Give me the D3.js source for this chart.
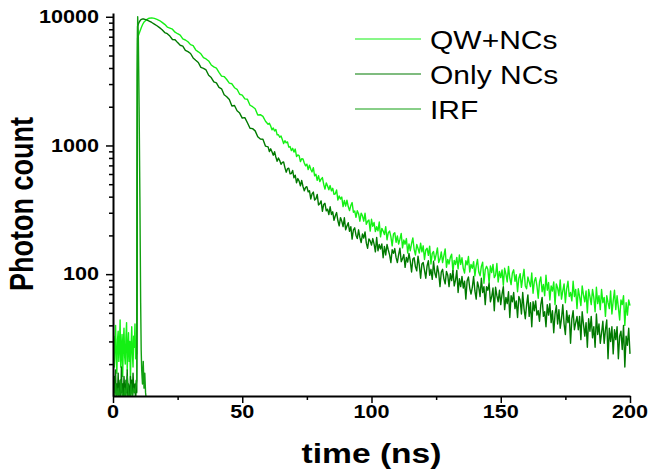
<!DOCTYPE html>
<html><head><meta charset="utf-8">
<script src="https://cdn.jsdelivr.net/npm/d3@7"></script>
<style>html,body{margin:0;padding:0;background:#fff;}svg{display:block;}</style>
</head><body>
<svg id="chart" width="649" height="470"></svg>
<script>
// ---------- data ----------
const seriesNames = ["QW+NCs", "Only NCs", "IRF"];
const seriesColors = ["#14f014", "#007a00", "#12a012"];

const xTickValues = [0, 50, 100, 150, 200];
const xMinorTicks = [25, 75, 125, 175];
const yTickValues = [100, 1000, 10000];
const yTickLabels = ["100", "1000", "10000"];
const yMinorTicks = [20,30,40,50,60,70,80,90,200,300,400,500,600,700,800,900,2000,3000,4000,5000,6000,7000,8000,9000];

// head (0 - 19 ns), explicit times
const headTime = [0,0.25,0.5,0.75,1,1.25,1.5,1.75,2,2.25,2.5,2.75,3,3.25,3.5,3.75,4,4.25,4.5,4.75,5,5.25,5.5,5.75,6,6.25,6.5,6.75,7,7.25,7.5,7.75,8,8.25,8.5,8.75,9,
  9.2,9.5,10,10.5,11,11.5,12,13,14,15,16,17,18,19];
const qwHead = [24,33,19,28,40,22,17,31,36,21,27,44,19,25,34,16,29,38,23,20,32,42,18,26,35,21,30,15,28,39,24,19,33,27,41,22,26,
  24,6800,7300,7800,8300,8750,9100,9500,9750,9800,9720,9560,9350,9050];
const ncHead = [13,11,16,12,18,10,14,12,17,11,13,15,10,19,12,14,11,16,13,10,15,12,18,11,14,13,10,16,12,15,11,17,13,12,14,10,15,
  12,8400,9000,9350,9550,9620,9600,9450,9250,9030,8780,8520,8230,7930];

// middle (20 - 59 ns, one value per ns)
const midStart = 20;
const qwMid = [8737,8319,8168,8006,7588,7383,7196,6725,6598,6396,6077,5977,5522,5343,5156,4816,4700,4537,4224,4080,
3987,3701,3459,3430,3256,3055,3016,2809,2732,2501,2465,2304,2286,2054,2000,1931,1725,1734,1682,1542];
const ncMid = [7539,7397,7075,6666,6629,6300,6009,5912,5476,5356,5186,4789,4593,4416,4040,3975,3861,3514,3372,3117,
3064,2831,2757,2476,2391,2278,2028,2042,1859,1785,1633,1646,1500,1361,1351,1299,1169,1123,1119,988];

// tail (60 - 200 ns, one value per 0.5 ns)
const tailStart = 60, tailStep = 0.5;
const qwTail = [
1461,1489,1418,1321,1367,1297,1332,1208,1212,1158, 1184,1112,1036,1089,1049,1066,971,981,912,950,
888,937,821,844,834,749,788,785,731,694, 716,649,703,654,623,673,581,598,536,582,
524,547,563,500,458,512,485,453,488,444, 465,417,421,451,376,405,383,397,335,374,
338,376,335,312,341,360,303,310,276,311, 295,258,298,284,258,297,244,258,264,216,
267,235,252,214,234,217,254,195,227,216, 203,234,185,210,216,196,166,205,210,177,
198,171,187,207,160,184,171,189,146,172, 152,173,191,156,141,170,158,146,174,149,
166,130,154,159,140,165,120,145,150,128, 142,160,123,131,149,123,139,157,113,130,
120,135,143,105,128,119,135,110,141,119, 134,111,102,127,118,137,104,119,111,125,
97,116,130,104,97,115,124,85,108,115, 109,86,116,103,119,94,98,121,87,105,
94,108,82,111,100,87,115,93,83,102, 108,88,99,73,93,101,79,94,109,81,
77,95,87,80,102,71,88,94,81,65, 87,95,73,83,68,98,75,86,63,81,
74,87,58,84,78,68,90,64,74,84, 60,77,88,67,72,62,88,67,76,54,
77,67,57,81,69,61,74,50,76,67, 58,76,66,51,79,59,68,53,76,60,
66,47,68,60,54,74,49,62,75,53, 68,55,44,63,58,68,40,60,48,63,57];
const ncTail = [
976,896,942,894,840,894,813,755,800,763, 713,738,744,673,620,660,666,603,605,639,
561,587,513,553,528,486,534,480,445,472, 478,436,445,384,420,434,376,385,417,345,
352,371,308,348,355,310,320,290,334,291, 305,262,284,301,260,237,275,258,234,274,
221,237,251,215,234,187,221,229,201,189, 221,193,176,205,191,213,174,159,188,181,
168,189,171,149,193,152,170,157,172,134, 164,141,170,154,141,123,155,145,158,135,
123,142,159,125,132,142,113,135,124,145, 126,104,131,134,114,106,138,117,93,120,
123,107,93,116,127,98,109,91,126,102, 94,116,102,80,104,109,92,84,105,98,
80,101,89,107,81,90,107,72,92,80, 96,78,88,64,89,95,78,70,79,96,
74,64,87,79,67,93,72,80,58,80, 75,85,61,67,78,52,79,68,61,75,
58,70,80,53,66,59,73,46,68,61, 72,54,62,46,67,63,49,72,54,45,
58,69,47,60,39,61,52,62,48,52, 43,58,66,47,51,39,58,48,59,42,
52,35,49,57,41,53,38,45,58,41, 34,52,42,48,29,45,52,37,42,47,
37,47,31,51,41,33,42,27,45,36, 47,32,39,27,49,34,41,29,35,43,
29,37,44,22,38,30,39,24,37,31, 39,22,33,36,26,40,19,33,28,38,24];

const irfTime = [0,0.5,1,1.5,2,2.5,3,3.5,4,4.5,5,5.5,6,6.5,7,7.5,8,8.5,9,9.2,9.35,9.55,9.8,10.1,10.4,10.7,10.9,11.1,11.4,11.7,12,12.3,12.6,13,13.5];
const irfCount = [12,10,14,11,13,10,15,12,10,13,11,16,12,10,14,11,13,12,14,15,3500,10000,7000,2000,400,60,26,18,14,21,13,17,12,10,9];

// ---------- layout ----------
const svg = d3.select("#chart");
const X0 = 113, X1 = 630, YT = 13, YB = 396;
const x = d3.scaleLinear().domain([0, 200]).range([X0, X1]);
const y = d3.scaleLog().domain([11.3, 10700]).range([YB, YT]);

const build = (head, mid, tail) => headTime.map((t, i) => [t, head[i]])
  .concat(mid.map((v, i) => [midStart + i, v]))
  .concat(tail.map((v, i) => [tailStart + i * tailStep, v]));
const series = [
  build(qwHead, qwMid, qwTail),
  build(ncHead, ncMid, ncTail),
  irfTime.map((t, i) => [t, irfCount[i]])
];

svg.append("clipPath").attr("id", "plotclip").append("rect")
  .attr("x", X0).attr("y", YT - 2).attr("width", X1 - X0 + 2).attr("height", YB - YT + 2);

const line = d3.line().x(d => x(d[0])).y(d => y(Math.max(d[1], 5)));
const plot = svg.append("g").attr("clip-path", "url(#plotclip)");
series.forEach((s, i) => {
  plot.append("path").datum(s).attr("d", line)
    .attr("fill", "none").attr("stroke", seriesColors[i]).attr("stroke-width", 1.4)
    .attr("stroke-linejoin", "round");
});

// ---------- axes ----------
const SX = 1.2; // horizontal stretch of the original image text
function stretchedText(g, tx, ty, str, size, weight, anchor, rot) {
  return g.append("text")
    .attr("transform", `translate(${tx},${ty}) scale(${SX},1)` + (rot ? ` rotate(${rot})` : ""))
    .attr("text-anchor", anchor).attr("dominant-baseline", "central")
    .style("font-family", "'Liberation Sans', Arial, sans-serif")
    .style("font-size", size + "px").style("font-weight", weight)
    .attr("fill", "#000").text(str);
}

const axStyle = g => { g.selectAll("path,line").attr("stroke", "#000"); };
const gx = svg.append("g").attr("transform", `translate(0,${YB})`);
gx.call(d3.axisBottom(x).tickValues(xTickValues).tickSize(7).tickSizeOuter(0).tickFormat(""));
gx.append("g").call(d3.axisBottom(x).tickValues(xMinorTicks).tickSize(4).tickSizeOuter(0).tickFormat(""))
  .select(".domain").remove();
gx.selectAll("path").attr("stroke-width", 2);
gx.selectAll("line").attr("stroke-width", 1.5);
axStyle(gx);

const gy = svg.append("g").attr("transform", `translate(${X0},0)`);
gy.call(d3.axisLeft(y).tickValues(yTickValues).tickSize(7).tickSizeOuter(0).tickFormat(""));
gy.append("g").call(d3.axisLeft(y).tickValues(yMinorTicks).tickSize(4).tickSizeOuter(0).tickFormat(""))
  .select(".domain").remove();
gy.selectAll("path").attr("stroke-width", 2);
gy.selectAll("line").attr("stroke-width", 1.5);
axStyle(gy);

const labels = svg.append("g");
xTickValues.forEach(v => stretchedText(labels, x(v), 412, String(v), 18, "bold", "middle"));
yTickValues.forEach((v, i) => stretchedText(labels, 99, y(v), yTickLabels[i], 18, "bold", "end"));

stretchedText(labels, x(100), 453, "time (ns)", 28, "bold", "middle");
stretchedText(labels, 22, 204, "Photon count", 27, "bold", "middle", -90);

// ---------- legend ----------
const legend = svg.append("g");
seriesNames.forEach((name, i) => {
  const ly = 39 + i * 35;
  legend.append("line").attr("x1", 355).attr("x2", 421).attr("y1", ly).attr("y2", ly)
    .attr("stroke", seriesColors[i]).attr("stroke-width", 1.1);
  stretchedText(legend, 430, ly + 1, name, 25, "normal", "start");
});
</script>
</body></html>
